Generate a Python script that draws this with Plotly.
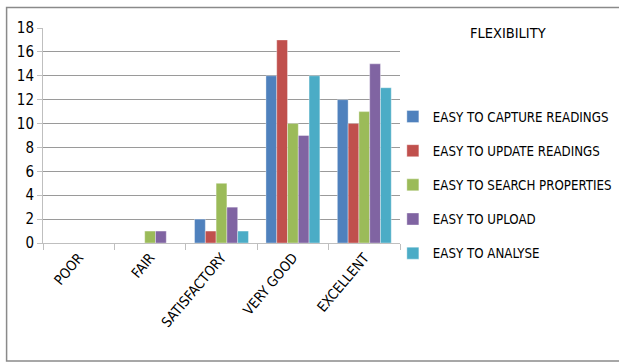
import plotly.graph_objects as go

# Survey ratings for the flexibility questions
categories = ["POOR", "FAIR", "SATISFACTORY", "VERY GOOD", "EXCELLENT"]
capture_readings = [0, 0, 2, 14, 12]
update_readings = [0, 0, 1, 17, 10]
search_properties = [0, 1, 5, 10, 11]
upload = [0, 1, 3, 9, 15]
analyse = [0, 0, 1, 14, 13]

series_names = [
    "EASY TO CAPTURE READINGS",
    "EASY TO UPDATE READINGS",
    "EASY TO SEARCH PROPERTIES",
    "EASY TO UPLOAD",
    "EASY TO ANALYSE",
]
series_values = [capture_readings, update_readings, search_properties, upload, analyse]
colors = ["#4F81BD", "#C0504D", "#9BBB59", "#8064A2", "#4BACC6"]
y_ticks = list(range(0, 19, 2))

FONT = "DejaVu Sans Condensed, sans-serif"

fig = go.Figure()
for i, (name, vals, col) in enumerate(zip(series_names, series_values, colors)):
    fig.add_trace(go.Bar(
        x=categories, y=vals, name=name, legendgroup=f"g{i}",
        marker=dict(color=col, line=dict(color="rgba(255,255,255,0.6)", width=0.6)),
    ))

fig.update_layout(
    width=619, height=363,
    margin=dict(l=43, r=219, t=28, b=120, autoexpand=False),
    paper_bgcolor="white", plot_bgcolor="white",
    barmode="group", bargap=0.245, bargroupgap=0,
    font=dict(family=FONT, color="#000000"),
    showlegend=True,
    legend=dict(
        x=0.98, xanchor="left", y=0.27, yanchor="middle",
        font=dict(family=FONT, size=13.2, color="#000000"),
        tracegroupgap=14, bgcolor="rgba(0,0,0,0)",
    ),
    annotations=[dict(
        text="FLEXIBILITY", xref="paper", yref="paper",
        x=1.302, y=0.977, xanchor="center", yanchor="middle",
        showarrow=False, font=dict(family=FONT, size=14.5, color="#000000"),
    )],
    shapes=[dict(
        type="rect", xref="paper", yref="paper",
        x0=-0.102, x1=1.75, y0=-0.549, y1=1.095,
        line=dict(color="#8a8a8a", width=1.5), fillcolor="rgba(0,0,0,0)",
        layer="below",
    )],
)

fig.update_xaxes(
    tickangle=-50, tickfont=dict(family=FONT, size=14),
    showline=True, linecolor="#bfbfbf", linewidth=1,
    ticks="outside", ticklen=6, tickcolor="#bfbfbf",
    tickson="boundaries", showgrid=False,
)
fig.update_yaxes(
    range=[0, 18], tickvals=y_ticks, tickfont=dict(family=FONT, size=15),
    showline=True, linecolor="#bfbfbf", linewidth=1,
    ticks="outside", ticklen=5, tickcolor="#bfbfbf",
    showgrid=True, gridcolor="#9a9a9a", gridwidth=1, zeroline=False,
)

fig.write_html("out.html")
